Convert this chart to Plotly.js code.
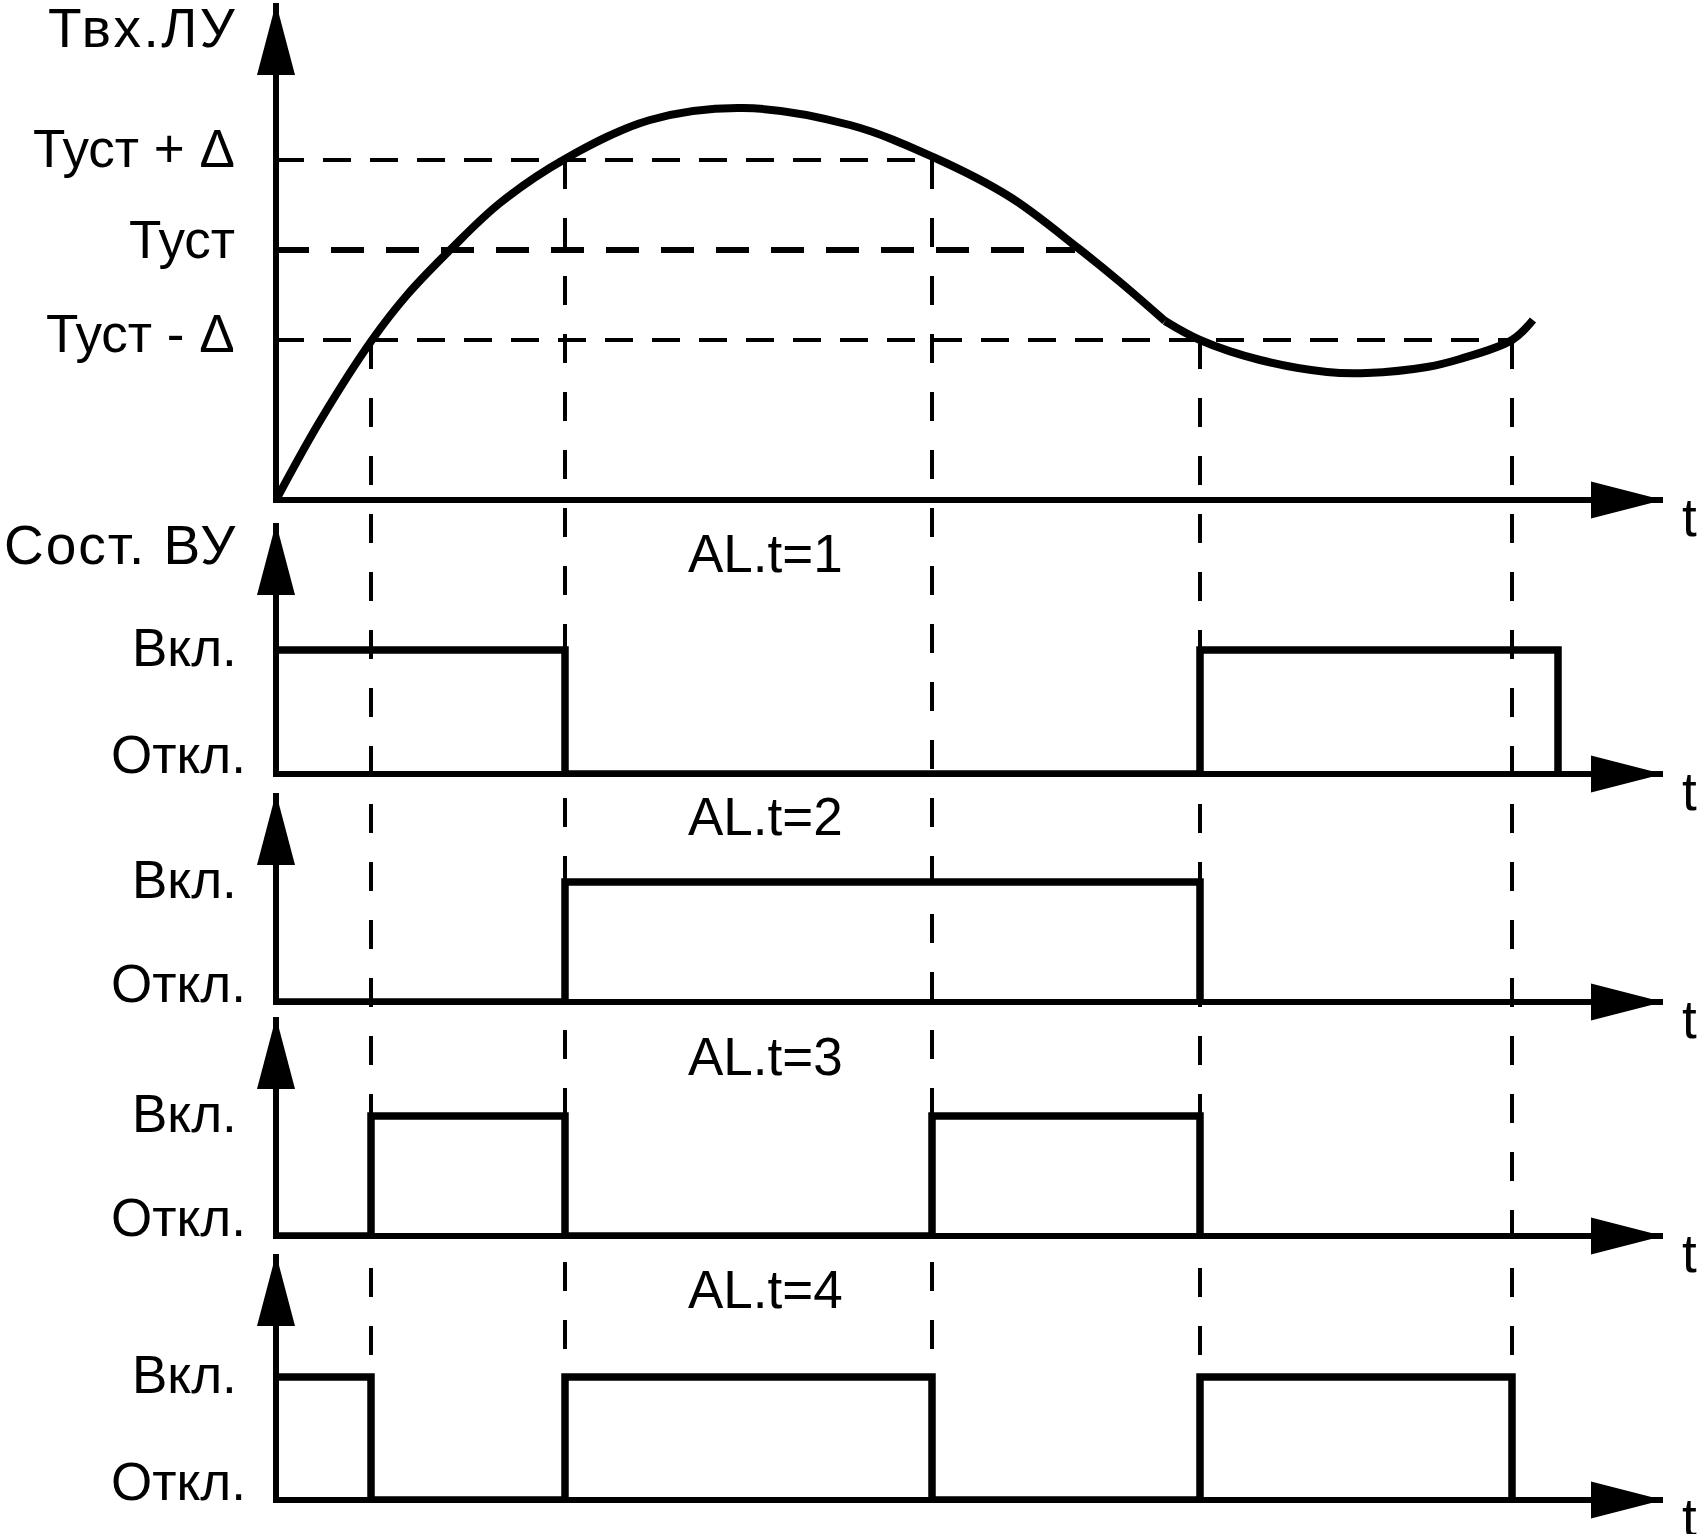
<!DOCTYPE html>
<html><head><meta charset="utf-8">
<script src="https://cdn.plot.ly/plotly-3.0.1.min.js"></script>
<style>html,body{margin:0;padding:0;background:#fff;}#chart{width:1699px;height:1534px;}</style>
</head><body><div id="chart"></div>
<script>
// ---------------- data ----------------
// input temperature curve (time, value); split at the kink
const curveRiseT = [0, 0.44, 0.96, 1.31, 1.76, 2.24, 2.89, 3.74, 4.67, 5.74, 6.57, 7.34, 8.02, 8.44, 8.89];
const curveRiseV = [0, 7.9, 16.0, 20.5, 25.2, 29.7, 34.1, 38.0, 39.2, 37.5, 34.3, 30.3, 25.2, 21.8, 17.9];
const curveFallT = [8.89, 9.24, 9.84, 10.51, 10.91, 11.51, 11.84, 12.36, 12.57];
const curveFallV = [17.9, 16.0, 14.0, 12.8, 12.7, 13.3, 14.1, 16.0, 18.0];

const setpoint = 25;
const delta = 9;
const levelValues = [setpoint + delta, setpoint, setpoint - delta];
const levelLabels = ['Туст + Δ', 'Туст', 'Туст - Δ'];
const levelLineEnd = [6.56, 7.99, 12.36];

const crossT = [0.95, 2.89, 6.56, 9.24, 12.36];
const crossLevel = [16, 34, 34, 16, 16];

const al1T = [0, 2.89, 9.24, 12.82];
const al1S = [1, 0, 1, 0];
const al2T = [0, 2.89, 9.24];
const al2S = [0, 1, 0];
const al3T = [0, 0.95, 2.89, 6.56, 9.24];
const al3S = [0, 1, 0, 1, 0];
const al4T = [0, 0.95, 2.89, 6.56, 9.24, 12.36];
const al4S = [1, 0, 1, 0, 1, 0];

const panelTitles = ['AL.t=1', 'AL.t=2', 'AL.t=3', 'AL.t=4'];
const stateLabels = ['Откл.', 'Вкл.'];
const topAxisTitle = 'Твх.ЛУ';
const stateAxisTitle = 'Сост. ВУ';
const timeLabel = 't';

// ---------------- geometry (pixels) ----------------
const W = 1699, H = 1534;
const AX_X = 276, X_TIP = 1663, T_MAX = 13.87;
const xScale = (X_TIP - AX_X) / T_MAX;
const AX_LW = 6;
const FONT = {family: 'Liberation Sans, Arial, Helvetica, sans-serif', size: 53, color: '#000'};
const FONT_WIDE = Object.assign({}, FONT, {size: 55});
const topPanel = {zero: 500, tip: 3, scale: 10};
const levelLabelShift = [12, 11, 7];
const panels = [
  {zero: 774, on: 650, tip: 523, title: 553},
  {zero: 1002, on: 882, tip: 793, title: 816},
  {zero: 1236, on: 1116, tip: 1017, title: 1056},
  {zero: 1500, on: 1377, tip: 1254, title: 1289}
];
const pulseSeries = [[al1T, al1S], [al2T, al2S], [al3T, al3S], [al4T, al4S]];

const py = p => 1 - p / H;
const pxp = p => p / W;
const spaced = (s, px) => '<span style="letter-spacing:' + px + 'px">' + s + '</span>';

const layout = {
  width: W, height: H, margin: {l: 0, r: 0, t: 0, b: 0},
  paper_bgcolor: '#fff', plot_bgcolor: 'rgba(0,0,0,0)',
  showlegend: false, hovermode: false,
  shapes: [], annotations: []
};
const axisStyle = {showline: true, linewidth: AX_LW, linecolor: '#000', showgrid: false,
  zeroline: false, showticklabels: false, ticks: '', fixedrange: true};

const xDomain = [pxp(AX_X + AX_LW / 2), pxp(X_TIP)];
const xRange = [(AX_LW / 2) / xScale, T_MAX];

layout.xaxis = Object.assign({}, axisStyle, {domain: xDomain, range: xRange, anchor: 'y'});
layout.yaxis = Object.assign({}, axisStyle, {
  domain: [py(topPanel.zero - AX_LW / 2), py(topPanel.tip)],
  range: [(AX_LW / 2) / topPanel.scale, (topPanel.zero - topPanel.tip) / topPanel.scale],
  anchor: 'x'});

const traces = [];
traces.push({x: curveRiseT, y: curveRiseV, xaxis: 'x', yaxis: 'y', mode: 'lines',
  line: {color: '#000', width: 8, shape: 'spline', smoothing: 1}});
traces.push({x: curveFallT, y: curveFallV, xaxis: 'x', yaxis: 'y', mode: 'lines',
  line: {color: '#000', width: 8, shape: 'spline', smoothing: 1}});

function upArrow(pxX, pxY) {
  return {type: 'path', xref: 'paper', yref: 'paper', xsizemode: 'pixel', ysizemode: 'pixel',
    xanchor: pxp(pxX), yanchor: py(pxY), path: 'M0,0 L-19,-72 L19,-72 Z',
    fillcolor: '#000', line: {width: 0}, layer: 'above'};
}
function rightArrow(pxX, pxY) {
  return {type: 'path', xref: 'paper', yref: 'paper', xsizemode: 'pixel', ysizemode: 'pixel',
    xanchor: pxp(pxX), yanchor: py(pxY), path: 'M0,0 L-72,18.5 L-72,-18.5 Z',
    fillcolor: '#000', line: {width: 0}, layer: 'above'};
}
layout.shapes.push(upArrow(AX_X, topPanel.tip));
layout.shapes.push(rightArrow(X_TIP, topPanel.zero));

levelValues.forEach((v, i) => {
  layout.shapes.push({type: 'line', xref: 'x', yref: 'y', x0: 0, x1: levelLineEnd[i], y0: v, y1: v,
    line: {color: '#000', width: i === 1 ? 6 : 4, dash: i === 1 ? '33px,22px' : '28px,19px'}, layer: 'below'});
  layout.annotations.push({xref: 'paper', x: pxp(237), xanchor: 'right', yref: 'y', y: v, yanchor: 'middle',
    yshift: levelLabelShift[i], text: levelLabels[i], showarrow: false, font: FONT});
});

layout.annotations.push({xref: 'paper', x: pxp(239), xanchor: 'right', yref: 'paper', y: py(28),
  yanchor: 'middle', text: spaced(topAxisTitle, 2.5), showarrow: false, font: FONT_WIDE});
layout.annotations.push({xref: 'paper', x: pxp(239), xanchor: 'right', yref: 'paper', y: py(545),
  yanchor: 'middle', text: spaced(stateAxisTitle, 2), showarrow: false, font: FONT_WIDE});
layout.annotations.push({xref: 'paper', x: pxp(1680), xanchor: 'left', yref: 'paper', y: py(topPanel.zero + 17),
  yanchor: 'middle', text: timeLabel, showarrow: false, font: FONT});

panels.forEach((p, k) => {
  const n = k + 2;
  const sc = p.zero - p.on;
  layout['xaxis' + n] = Object.assign({}, axisStyle, {domain: xDomain, range: xRange, anchor: 'y' + n, matches: 'x'});
  layout['yaxis' + n] = Object.assign({}, axisStyle, {
    domain: [py(p.zero - AX_LW / 2), py(p.tip)],
    range: [(AX_LW / 2) / sc, (p.zero - p.tip) / sc], anchor: 'x' + n});
  traces.push({x: pulseSeries[k][0], y: pulseSeries[k][1], xaxis: 'x' + n, yaxis: 'y' + n, mode: 'lines',
    line: {color: '#000', width: 7.5, shape: 'hv'}});
  layout.shapes.push(upArrow(AX_X, p.tip));
  layout.shapes.push(rightArrow(X_TIP, p.zero));
  layout.annotations.push({xref: 'paper', x: pxp(239), xanchor: 'right', yref: 'paper', y: py(p.on - 3),
    yanchor: 'middle', text: stateLabels[1], showarrow: false, font: FONT});
  layout.annotations.push({xref: 'paper', x: pxp(248), xanchor: 'right', yref: 'paper', y: py(p.zero - 19),
    yanchor: 'middle', text: stateLabels[0], showarrow: false, font: FONT});
  layout.annotations.push({xref: 'x', x: 4.89, xanchor: 'center', yref: 'paper', y: py(p.title), yanchor: 'middle',
    text: panelTitles[k], showarrow: false, font: FONT});
  layout.annotations.push({xref: 'paper', x: pxp(1680), xanchor: 'left', yref: 'paper', y: py(p.zero + 17),
    yanchor: 'middle', text: timeLabel, showarrow: false, font: FONT});
});

const topYToPaper = v => py(topPanel.zero - v * topPanel.scale);
const last = panels[panels.length - 1];
crossT.forEach((t, i) => {
  layout.shapes.push({type: 'line', xref: 'x', yref: 'paper', x0: t, x1: t,
    y0: topYToPaper(crossLevel[i]), y1: py(last.on - 8),
    line: {color: '#000', width: 4, dash: '29px,29px'}, layer: 'below'});
});

Plotly.newPlot('chart', traces, layout, {displayModeBar: false, staticPlot: true});
</script>
</body></html>
